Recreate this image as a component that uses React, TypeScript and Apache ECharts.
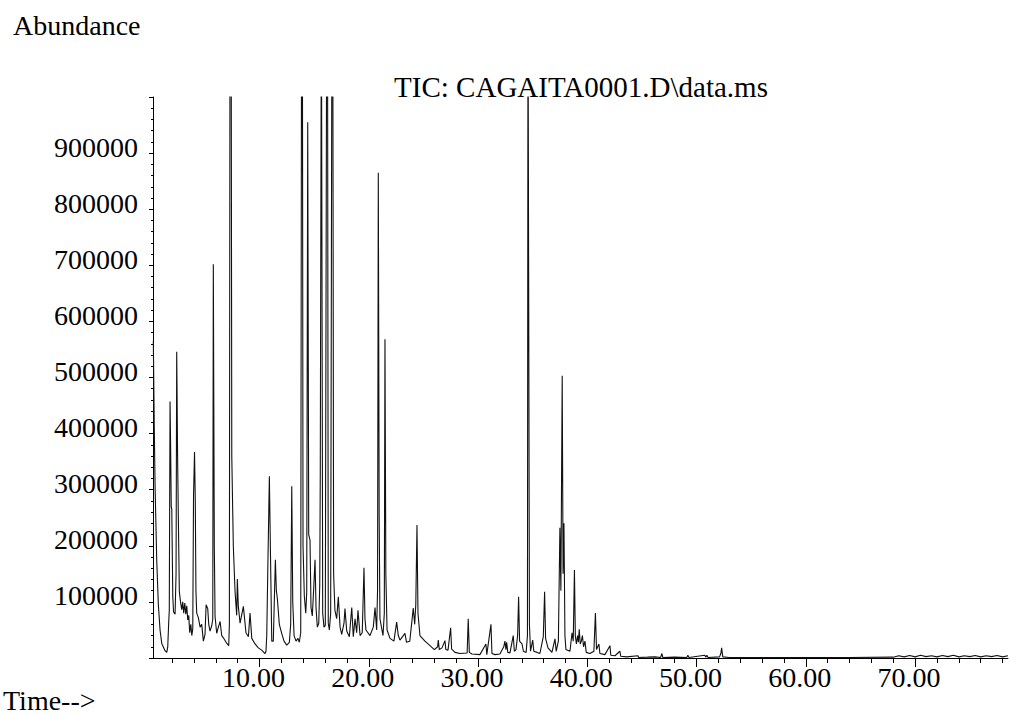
import React, { useEffect, useRef } from "react";
import * as echarts from "echarts";

// ---- Data (retention time in min, abundance) ----
const seg1Time = [0.28,0.36,0.44,0.59,0.74,0.90,1.05,1.35,1.51,1.60,1.68,1.74,1.81,1.86,1.92,1.97,2.06,2.13,2.27,2.36,2.42,2.50,2.57,2.66,2.79,2.88,2.97,3.06,3.16,3.25,3.34,3.43,3.52,3.61,3.71,3.80,3.89,3.96,4.05,4.12,4.18,4.25,4.40,4.56,4.71,4.86,5.01,5.11,5.26,5.35,5.47,5.63,5.72,5.77,5.86,5.93,6.08,6.23,6.39,6.54,6.69,6.94,7.18,7.24,7.30,7.40,7.46,7.60,7.76,7.91];
const seg1Abund = [565000,420000,306000,175000,95000,49000,26000,13000,10000,20000,60000,85000,457000,380000,270000,265000,110000,82000,78000,150000,546000,360000,250000,118000,97000,86000,100000,80000,98000,78000,93000,68000,76000,45000,60000,40000,52000,290000,367000,280000,120000,80000,72000,55000,60000,30000,42000,95000,88000,60000,48000,58000,70000,702000,200000,74000,44000,55000,65000,40000,36000,28000,22000,60000,1200000,1200000,360000,200000,118000,76000];

const seg2Time = [7.97,8.06,8.22,8.52,8.76,8.98,9.13,9.29,9.59,9.89,10.20,10.50,10.59,10.66,10.75,10.90,10.99,11.12,11.26,11.35,11.45,11.54,11.63,11.81,12.03,12.24,12.49,12.73,12.85,12.95,13.04,13.16,13.34,13.52,13.64,13.77,13.85,13.92,13.98,14.10,14.23,14.32,14.41,14.50,14.62,14.71,14.83,14.96,15.08,15.17,15.29,15.42,15.51,15.56,15.66,15.72,15.78,15.90,16.02,16.15,16.22,16.29,16.39,16.51,16.63,16.70,16.78,16.90,17.06,17.21,17.37,17.52,17.73,17.82,17.98,18.22,18.44,18.58,18.74,18.89,19.01,19.20,19.40,19.56,19.65,19.74,20.11,20.41,20.57,20.72,20.80,20.87,20.95,21.02,21.30,21.42,21.48,21.56,21.67,21.94];
const seg2Abund = [141000,92000,62000,92000,45000,38000,80000,35000,25000,18000,14000,8000,12000,40000,150000,324000,200000,30000,30000,100000,175000,120000,106000,60000,44000,30000,23000,28000,60000,306000,100000,40000,30000,35000,28000,45000,1200000,1200000,200000,110000,80000,118000,955000,220000,210000,90000,75000,125000,175000,90000,55000,62000,130000,331000,1200000,1200000,80000,55000,58000,1200000,1200000,62000,50000,80000,1200000,1200000,150000,85000,70000,109000,55000,42000,62000,88000,48000,38000,90000,38000,70000,45000,85000,40000,45000,161000,70000,50000,40000,55000,90000,50000,120000,865000,250000,70000,40000,80000,568000,150000,50000,35000];

const seg3Time = [22.30,22.55,22.70,22.85,23.31,23.45,23.75,24.07,24.20,24.30,24.41,24.50,24.68,25.14,25.60,26.00,26.30,26.36,26.45,26.70,26.97,27.05,27.25,27.49,27.58,27.89,28.34,29.00,29.10,29.20,29.44,30.17,30.72,30.80,31.18,31.27,31.55,32.00,32.35,32.46,32.55,32.62,32.72,32.92,33.22,33.32,33.47,33.62,33.71,33.80,34.02,34.15,34.40,34.52,34.57,34.63,34.70,34.80,35.00,35.10,35.40,35.66,35.97,36.09,36.18,36.40,36.76,37.04,37.15,37.35,37.49,37.58,37.70,37.78,37.86,37.95,38.04,38.41,38.60,38.71,38.82,38.90,39.00,39.11,39.18,39.26,39.35,39.45,39.55,39.65,39.78,39.90,40.24,40.60,40.74,40.84,41.06,41.15,41.61,42.07,42.15,42.53,42.98,43.06,43.60,44.63,44.70];
const seg3Abund = [30000,64000,40000,32000,44000,28000,30000,89000,60000,95000,237000,80000,40000,30000,22000,15000,20000,32000,15000,18000,31000,15000,14000,54000,16000,10000,8000,9000,70000,10000,7000,6000,25000,6000,60000,8000,6000,7000,20000,30000,15000,28000,10000,9000,40000,12000,15000,40000,109000,30000,25000,12000,10000,40000,1200000,1200000,60000,12000,32000,12000,10000,8000,38000,118000,35000,18000,10000,34000,12000,30000,232000,120000,503000,150000,240000,40000,15000,12000,45000,30000,157000,40000,25000,40000,28000,51000,25000,30000,40000,20000,30000,10000,8000,12000,80000,15000,25000,8000,6000,22000,5000,4000,12000,3000,2000,4000,1000];

const seg4Time = [45.50,46.20,46.70,46.83,46.90,48.00,49.10,49.20,49.30,50.75,50.85,50.94,51.05,52.10,52.22,52.29,52.40,53.00,56.00,60.00,64.00,68.00,68.50,69.00,69.50,70.00,70.50,71.00,71.50,72.00,72.50,73.00,73.50,74.00,74.50,75.00,75.50,76.00,76.50,77.00,77.50,78.00,78.50];
const seg4Abund = [1500,2000,1000,8000,1000,1500,1000,5000,1000,5000,1500,5000,1000,2000,8000,18000,2000,1000,1000,1000,1000,1500,4000,2000,4500,2000,5000,2500,4000,2000,4500,2500,5000,2000,4000,2500,4500,2000,4000,2500,4500,2000,4000];

// ---- Axis ticks / labels ----
const timeMin = 0.25;
const timeMax = 78.5;
const timeMinorTicks = [2,4,6,8,10,12,14,16,18,20,22,24,26,28,30,32,34,36,38,40,42,44,46,48,50,52,54,56,58,60,62,64,66,68,70,72,74,76,78];
const timeLabels = [10,20,30,40,50,60,70];
const abundMin = 0;
const abundMax = 1000000;
const abundStep = 100000;

const titleText = "TIC: CAGAITA0001.D\\data.ms";
const yTitle = "Abundance";
const xTitle = "Time-->";

const FONT = '"Liberation Serif", "Times New Roman", serif';

function buildData(): [number, number][] {
  const out: [number, number][] = [];
  const segs: [number[], number[]][] = [
    [seg1Time, seg1Abund],
    [seg2Time, seg2Abund],
    [seg3Time, seg3Abund],
    [seg4Time, seg4Abund],
  ];
  for (const [t, v] of segs) {
    for (let i = 0; i < t.length; i++) out.push([t[i], v[i]]);
  }
  return out;
}

export default function App() {
  const ref = useRef<HTMLDivElement>(null);
  useEffect(() => {
    if (!ref.current) return;
    const chart = echarts.init(ref.current, undefined, { renderer: "svg" });
    const black = { color: "#000", width: 1 };
    const gridBox = { left: 153, right: 2, top: 97, bottom: 58, containLabel: false, outerBoundsMode: "none" };
    chart.setOption({
      animation: false,
      backgroundColor: "#fff",
      grid: [gridBox, gridBox],
      xAxis: [
        {
          gridIndex: 0,
          type: "value",
          min: timeMin,
          max: timeMax,
          axisLine: { show: true, onZero: false, lineStyle: black },
          axisTick: { show: true, customValues: timeMinorTicks, length: 5, lineStyle: black },
          axisLabel: {
            show: true,
            customValues: timeLabels,
            formatter: (v: number) => v.toFixed(2),
            fontFamily: FONT,
            fontSize: 28,
            color: "#000",
            margin: 5,
            padding: [0, 12, 0, 0],
          },
          splitLine: { show: false },
        },
        {
          gridIndex: 1,
          type: "value",
          min: timeMin,
          max: timeMax,
          axisLine: { show: false, onZero: false },
          axisTick: { show: true, customValues: timeLabels, length: 9, lineStyle: black },
          axisLabel: { show: false },
          splitLine: { show: false },
        },
      ],
      yAxis: [
        {
          gridIndex: 0,
          type: "value",
          min: abundMin,
          max: abundMax,
          interval: abundStep,
          axisLine: { show: true, onZero: false, lineStyle: black },
          axisTick: { show: true, length: 4, lineStyle: black },
          minorTick: { show: true, splitNumber: 5, length: 2, lineStyle: black },
          axisLabel: {
            formatter: (v: number) => (v > abundMin && v < abundMax ? String(v) : ""),
            fontFamily: FONT,
            fontSize: 28,
            color: "#000",
            margin: 15,
            verticalAlign: "bottom",
            lineHeight: 12,
          },
          splitLine: { show: false },
          minorSplitLine: { show: false },
        },
        {
          gridIndex: 1,
          type: "value",
          min: abundMin,
          max: abundMax,
          show: false,
        },
      ],
      series: [
        {
          type: "line",
          xAxisIndex: 0,
          yAxisIndex: 0,
          data: buildData(),
          symbol: "none",
          showSymbol: false,
          clip: true,
          silent: true,
          lineStyle: { color: "#111", width: 1.1 },
        },
      ],
      graphic: [
        {
          type: "text",
          x: 13,
          y: 25,
          style: { text: yTitle, fontFamily: FONT, fontSize: 28, fill: "#000", align: "left", verticalAlign: "middle" },
        },
        {
          type: "text",
          x: 581,
          y: 87,
          style: { text: titleText, fontFamily: FONT, fontSize: 29, fill: "#000", align: "center", verticalAlign: "middle" },
        },
        {
          type: "text",
          x: 3,
          y: 700,
          style: { text: xTitle, fontFamily: FONT, fontSize: 28, fill: "#000", align: "left", verticalAlign: "middle" },
        },
      ],
    });
    return () => chart.dispose();
  }, []);
  return (
    <div
      ref={ref}
      style={{ position: "fixed", left: 0, top: 0, width: 1010, height: 716, background: "#fff" }}
    />
  );
}
